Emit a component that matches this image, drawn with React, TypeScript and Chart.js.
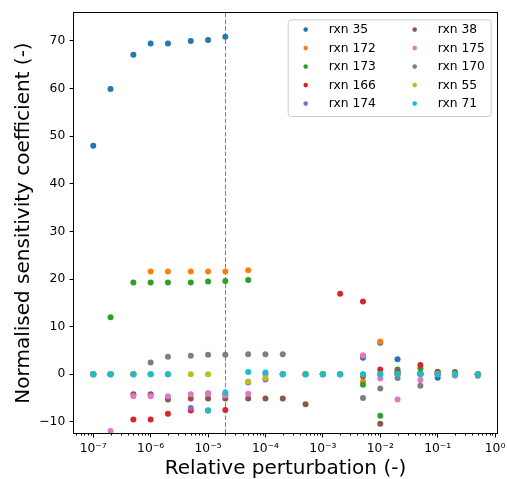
import React, { useEffect, useRef } from "react";
import { Chart, registerables } from "chart.js";

Chart.register(...registerables);

const FONT = "'DejaVu Sans', 'Liberation Sans', sans-serif";

// Perturbation values (x)
const xValues = [1e-7, 2e-7, 5e-7, 1e-6, 2e-6, 5e-6, 1e-5, 2e-5, 5e-5, 1e-4, 2e-4, 5e-4, 1e-3, 2e-3, 5e-3, 1e-2, 2e-2, 5e-2, 1e-1, 2e-1, 5e-1];

const seriesLabels = ["rxn 35", "rxn 172", "rxn 173", "rxn 166", "rxn 174", "rxn 38", "rxn 175", "rxn 170", "rxn 55", "rxn 71"];
const seriesColors = ["#1f77b4", "#ff7f0e", "#2ca02c", "#d62728", "#9467bd", "#8c564b", "#e377c2", "#7f7f7f", "#bcbd22", "#17becf"];

const rxn35 = [48.0, 59.9, 67.1, 69.5, 69.5, 70.0, 70.2, 70.9, null, null, null, null, null, null, 3.5, 6.6, 3.15, 0.0, -0.7, 0.0, 0.0];
const rxn172 = [0, 0, 0, 21.6, 21.6, 21.6, 21.6, 21.6, 21.85, null, null, null, null, null, -1.5, 6.9, 0.0, 0.0, 0.0, 0.0, 0.0];
const rxn173 = [0, 12.0, 19.26, 19.26, 19.26, 19.26, 19.5, 19.6, 19.8, null, null, null, null, null, -2.2, -8.7, 1.0, 1.26, 0.2, 0.5, 0.0];
const rxn166 = [0, 0, -9.5, -9.5, -8.3, -7.6, -7.6, -7.5, null, null, 0, 0, 0, 16.9, 15.3, 1.0, 0.3, 1.96, 0.5, 0.2, 0.0];
const rxn174 = [0, 0, 0, 0, 0, -7.1, -4.0, -4.3, -1.7, -1.1, 0, 0, 0, 0, 3.8, 0, 0, 0, 0, 0, 0];
const rxn38 = [0, 0, -4.2, -4.2, -5.3, -5.1, -5.1, -5.1, -5.1, -5.1, -5.1, -6.3, 0, 0, -0.4, -10.4, 0.55, 0.2, 0.5, 0.2, 0.0];
const rxn175 = [0, -11.9, -4.6, -4.6, -4.6, -4.2, -4.1, -4.4, -4.1, 0, 0, 0, 0, 0, 4.0, -0.9, -5.3, -1.2, 0, -0.3, 0.0];
const rxn170 = [0, 0, 0, 2.5, 3.7, 3.9, 4.1, 4.1, 4.2, 4.2, 4.2, 0, 0, 0, -5.0, -3.0, -0.77, -2.4, 0, 0, -0.3];
const rxn55 = [0, 0, 0, 0, 0, 0, 0, null, -1.5, -0.8, 0, 0, 0.1, 0, 0, 0, 0, 0, 0, 0, 0];
const rxn71 = [0, 0, 0, 0, 0, null, -7.6, -3.85, 0.5, 0.4, 0, 0, 0, 0, 0, 0, 0, 0, 0, 0, 0];

const seriesValues = [rxn35, rxn172, rxn173, rxn166, rxn174, rxn38, rxn175, rxn170, rxn55, rxn71];

const xMajorTicks = [1e-7, 1e-6, 1e-5, 1e-4, 1e-3, 1e-2, 1e-1, 1e0];
const yTicks = [-10, 0, 10, 20, 30, 40, 50, 60, 70];
const X_MIN = 4.62e-8;
const X_MAX = 1.08;
const Y_MIN = -12.33;
const Y_MAX = 75.88;
const REFERENCE_X = 2e-5;

const SUP: Record<string, string> = { "-": "⁻", "0": "⁰", "1": "¹", "2": "²", "3": "³", "4": "⁴", "5": "⁵", "6": "⁶", "7": "⁷", "8": "⁸", "9": "⁹" };
const sup = (n: number) => String(n).split("").map((c) => SUP[c] ?? c).join("");

const decorPlugin = {
  id: "decor",
  beforeDatasetsDraw(chart: any) {
    const { ctx, chartArea: ca, scales } = chart;
    const x = Math.round(scales.x.getPixelForValue(REFERENCE_X)) + 0.5;
    ctx.save();
    ctx.strokeStyle = "#808080";
    ctx.lineWidth = 1;
    ctx.setLineDash([4.6, 2]);
    ctx.beginPath();
    ctx.moveTo(x, ca.top);
    ctx.lineTo(x, ca.bottom);
    ctx.stroke();
    ctx.restore();
  },
  afterDraw(chart: any) {
    const { ctx, chartArea: ca, scales } = chart;
    ctx.save();
    // minor ticks on log x axis
    ctx.strokeStyle = "#000";
    ctx.lineWidth = 1;
    ctx.beginPath();
    for (let d = -8; d <= 0; d++) {
      for (let m = 2; m <= 9; m++) {
        const v = m * Math.pow(10, d);
        if (v < X_MIN || v > X_MAX) continue;
        const px = Math.round(scales.x.getPixelForValue(v)) + 0.5;
        ctx.moveTo(px, ca.bottom);
        ctx.lineTo(px, ca.bottom + 2.5);
      }
    }
    ctx.stroke();
    // frame
    ctx.strokeRect(Math.round(ca.left) - 0.5, Math.round(ca.top) - 0.5, Math.round(ca.right - ca.left) + 1, Math.round(ca.bottom - ca.top) + 1);

    // legend
    const bw = 203;
    const bh = 96.7;
    const bx = ca.right - 6.3 - bw;
    const by = ca.top + 6.3;
    ctx.beginPath();
    (ctx as any).roundRect(bx + 0.5, by + 0.5, bw, bh, 3);
    ctx.fillStyle = "rgba(255,255,255,0.8)";
    ctx.fill();
    ctx.strokeStyle = "#cccccc";
    ctx.stroke();
    ctx.font = `12.3px ${FONT}`;
    ctx.textBaseline = "middle";
    ctx.textAlign = "left";
    seriesLabels.forEach((label, i) => {
      const col = Math.floor(i / 5);
      const row = i % 5;
      const mx = bx + 18 + col * 109;
      const my = by + 10.3 + row * 18.5;
      ctx.beginPath();
      ctx.arc(mx, my, 2.3, 0, Math.PI * 2);
      ctx.fillStyle = seriesColors[i];
      ctx.fill();
      ctx.fillStyle = "#000";
      ctx.fillText(label, bx + 41 + col * 109, my + 0.5);
    });
    ctx.restore();
  },
};

export default function App() {
  const canvasRef = useRef<HTMLCanvasElement | null>(null);

  useEffect(() => {
    if (!canvasRef.current) return;
    const datasets = seriesLabels.map((label, i) => ({
      label,
      data: xValues
        .map((x, j) => ({ x, y: seriesValues[i][j] }))
        .filter((p) => p.y !== null && p.y !== undefined),
      backgroundColor: seriesColors[i],
      borderColor: seriesColors[i],
      pointRadius: 3.0,
      pointBorderWidth: 0,
      showLine: false,
      order: seriesLabels.length - i,
    }));

    const chart = new Chart(canvasRef.current, {
      type: "scatter",
      data: { datasets: datasets as any },
      options: {
        animation: false,
        responsive: false,
        devicePixelRatio: 1,
        layout: { padding: { left: 0, top: 13, right: 10, bottom: 0 } },
        plugins: { legend: { display: false }, tooltip: { enabled: false } },
        scales: {
          x: {
            type: "logarithmic",
            min: X_MIN,
            max: X_MAX,
            afterBuildTicks: (s: any) => {
              s.ticks = xMajorTicks.map((v) => ({ value: v }));
            },
            afterFit: (s: any) => {
              s.height = 46;
              s.paddingLeft = 0;
              s.paddingRight = 0;
            },
            ticks: {
              autoSkip: false,
              maxRotation: 0,
              minRotation: 0,
              padding: 4.4,
              color: "#000",
              font: { family: FONT, size: 12.3 },
              callback: (v: any) => "10" + sup(Math.round(Math.log10(Number(v)))),
            },
            grid: { display: true, drawOnChartArea: false, drawTicks: true, tickLength: 4.4, tickColor: "#000", tickWidth: 1 },
            border: { display: false },
            title: {
              display: true,
              text: "Relative perturbation (-)",
              color: "#000",
              font: { family: FONT, size: 20, lineHeight: 1 },
              padding: { top: 0, bottom: 0 },
            },
          },
          y: {
            type: "linear",
            min: Y_MIN,
            max: Y_MAX,
            afterBuildTicks: (s: any) => {
              s.ticks = yTicks.map((v) => ({ value: v }));
            },
            afterFit: (s: any) => {
              s.width = 74;
              s.paddingTop = 0;
              s.paddingBottom = 0;
            },
            ticks: {
              padding: 4.4,
              color: "#000",
              font: { family: FONT, size: 12.3 },
              callback: (v: any) => (Number(v) < 0 ? "\u2212" + Math.abs(Number(v)) : String(v)),
            },
            grid: { display: true, drawOnChartArea: false, drawTicks: true, tickLength: 4.4, tickColor: "#000", tickWidth: 1 },
            border: { display: false },
            title: {
              display: true,
              text: "Normalised sensitivity coefficient (-)",
              color: "#000",
              font: { family: FONT, size: 20, lineHeight: 1 },
              padding: { top: 13.6, bottom: 0 },
            },
          },
        },
      },
      plugins: [decorPlugin],
    });
    return () => chart.destroy();
  }, []);

  return (
    <div style={{ position: "absolute", left: 0, top: 0, width: 507, height: 479, background: "#fff" }}>
      <canvas ref={canvasRef} width={507} height={479} style={{ width: 507, height: 479, display: "block" }} />
    </div>
  );
}
